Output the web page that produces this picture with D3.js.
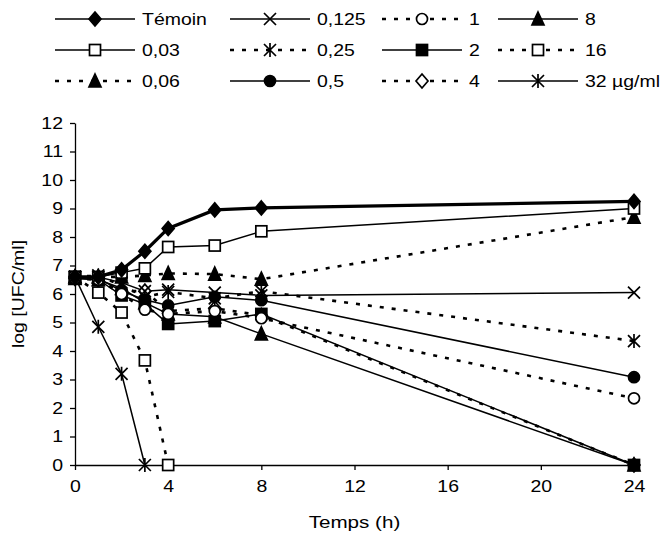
<!DOCTYPE html>
<html>
<head>
<meta charset="utf-8">
<script src="https://cdn.jsdelivr.net/npm/d3@7"></script>
<style>
  body { margin: 0; background: #fff; }
  svg text { font-family: Arial, "Liberation Sans", sans-serif; fill: #000; }
</style>
</head>
<body>
<script>
// time points (h)
const times = [0, 1, 2, 3, 4, 6, 8, 24];

const temoin = [6.6, 6.6, 6.85, 7.5, 8.3, 8.95, 9.02, 9.25];
const c003   = [6.6, 6.6, 6.75, 6.9, 7.65, 7.7, 8.2, 9.0];
const c006   = [6.6, 6.6, 6.6, 6.65, 6.72, 6.7, 6.52, 8.7];
const c0125  = [6.6, 6.6, 6.4, 6.1, 6.15, 6.05, 5.95, 6.05];
const c025   = [6.6, 6.65, 6.3, 5.9, 6.07, 5.85, 6.1, 4.35];
const c05    = [6.6, 6.55, 6.1, 5.8, 5.6, 5.9, 5.78, 3.08];
const c1     = [6.55, 6.5, 6.0, 5.45, 5.3, 5.4, 5.15, 2.34];
const c2     = [6.55, 6.5, 5.95, 5.65, 4.95, 5.05, 5.3, 0];
const c4     = [6.55, 6.5, 6.1, 6.1, 5.4, 5.5, 5.25, 0];
const c8     = [6.55, 6.5, 6.2, 5.7, 5.3, 5.2, 4.6, 0];
const c16    = [6.6, 6.05, 5.35, 3.67, 0, null, null, null];
const c32    = [6.6, 4.85, 3.2, 0, null, null, null, null];

const xTicks = [0, 4, 8, 12, 16, 20, 24];
const yTicks = d3.range(0, 13);

// legend order (row by row, 4 columns)
const series = [
  { name: 'Témoin',   values: temoin, marker: 'diamond',  fill: true,  dash: false, width: 3.2 },
  { name: '0,125',    values: c0125,  marker: 'x',        fill: false, dash: false },
  { name: '1',        values: c1,     marker: 'circle',   fill: false, dash: true },
  { name: '8',        values: c8,     marker: 'triangle', fill: true,  dash: false },
  { name: '0,03',     values: c003,   marker: 'square',   fill: false, dash: false },
  { name: '0,25',     values: c025,   marker: 'star',     fill: false, dash: true },
  { name: '2',        values: c2,     marker: 'square',   fill: true,  dash: false },
  { name: '16',       values: c16,    marker: 'square',   fill: false, dash: true },
  { name: '0,06',     values: c006,   marker: 'triangle', fill: true,  dash: true },
  { name: '0,5',      values: c05,    marker: 'circle',   fill: true,  dash: false },
  { name: '4',        values: c4,     marker: 'diamond',  fill: false, dash: true },
  { name: '32 µg/ml', values: c32,    marker: 'star',     fill: false, dash: false }
];

const W = 671, H = 538;
const SX = 1.18; // text is drawn a bit wider than Arial
const DASH = '4,8';
const svg = d3.select('body').append('svg')
  .attr('width', W).attr('height', H);

const x = d3.scaleLinear().domain([0, 24]).range([75, 634]);
const y = d3.scaleLinear().domain([0, 12]).range([465, 123]);

// axes
const xAxis = svg.append('g')
  .attr('transform', `translate(0,${y(0)})`)
  .call(d3.axisBottom(x).tickValues(xTicks).tickSize(5).tickPadding(10).tickSizeOuter(0));
const yAxis = svg.append('g')
  .attr('transform', `translate(${x(0)},0)`)
  .call(d3.axisLeft(y).tickValues(yTicks).tickSize(5).tickPadding(7).tickSizeOuter(0));

[xAxis, yAxis].forEach(a => {
  a.select('.domain').attr('stroke', '#000').attr('stroke-width', 1.3);
  a.selectAll('.tick line').attr('stroke', '#000').attr('stroke-width', 1.3);
  a.selectAll('.tick text').style('font-size', '16.5px')
    .style('font-family', 'Arial, "Liberation Sans", sans-serif').attr('fill', '#000')
    .attr('transform', `scale(${SX},1)`);
});
yAxis.selectAll('.tick text').attr('x', -12 / SX);

svg.append('text')
  .attr('transform', `translate(${(x(0) + x(24)) / 2},528) scale(1.25,1)`)
  .attr('text-anchor', 'middle').style('font-size', '16.5px')
  .text('Temps (h)');

svg.append('text')
  .attr('transform', `translate(24,${y(6)}) rotate(-90) scale(${SX},1)`)
  .attr('text-anchor', 'middle').style('font-size', '16.5px')
  .text('log [UFC/ml]');

// marker drawing
function drawMarker(g, s, cx, cy) {
  const r = 6;
  const stroke = '#000';
  const fill = s.fill ? '#000' : '#fff';
  let el;
  switch (s.marker) {
    case 'diamond':
      el = g.append('path').attr('d', `M${cx},${cy - r - 1}L${cx + r},${cy}L${cx},${cy + r + 1}L${cx - r},${cy}Z`);
      break;
    case 'square':
      el = g.append('rect').attr('x', cx - r + 0.5).attr('y', cy - r + 0.5).attr('width', 2 * r - 1).attr('height', 2 * r - 1);
      break;
    case 'triangle':
      el = g.append('path').attr('d', `M${cx},${cy - r - 1}L${cx + r},${cy + r}L${cx - r},${cy + r}Z`);
      break;
    case 'circle':
      el = g.append('circle').attr('cx', cx).attr('cy', cy).attr('r', r - 0.5);
      break;
    case 'x':
      g.append('path').attr('d', `M${cx - r},${cy - r}L${cx + r},${cy + r}M${cx - r},${cy + r}L${cx + r},${cy - r}`)
        .attr('stroke', stroke).attr('stroke-width', 1.7).attr('fill', 'none');
      return;
    case 'star':
      g.append('path').attr('d', `M${cx - r},${cy - r}L${cx + r},${cy + r}M${cx - r},${cy + r}L${cx + r},${cy - r}M${cx},${cy - r - 1}L${cx},${cy + r + 1}`)
        .attr('stroke', stroke).attr('stroke-width', 1.7).attr('fill', 'none');
      return;
  }
  el.attr('fill', fill).attr('stroke', stroke).attr('stroke-width', 1.7);
}

const line = d3.line()
  .defined(d => d.v !== null)
  .x(d => x(d.t))
  .y(d => y(d.v));

const plot = svg.append('g');
series.slice().reverse().forEach(s => {
  const pts = times.map((t, i) => ({ t, v: s.values[i] }));
  plot.append('path')
    .attr('d', line(pts))
    .attr('fill', 'none')
    .attr('stroke', '#000')
    .attr('stroke-width', s.width || (s.dash ? 2.6 : 1.5))
    .attr('stroke-dasharray', s.dash ? DASH : null);
});
series.slice().reverse().forEach(s => {
  const g = plot.append('g');
  times.forEach((t, i) => {
    if (s.values[i] !== null) drawMarker(g, s, x(t), y(s.values[i]));
  });
});

// legend
const colX = [55, 230, 382, 498];
const rowY = [19, 50, 81];
const legend = svg.append('g');
series.forEach((s, i) => {
  const cx = colX[i % 4], cy = rowY[Math.floor(i / 4)];
  const g = legend.append('g');
  g.append('line')
    .attr('x1', cx).attr('x2', cx + 80).attr('y1', cy).attr('y2', cy)
    .attr('stroke', '#000').attr('stroke-width', s.dash ? 2.6 : 1.5)
    .attr('stroke-dasharray', s.dash ? DASH : null);
  drawMarker(g, s, cx + 40, cy);
  g.append('text')
    .attr('transform', `translate(${cx + 87},${cy + 6}) scale(${SX},1)`)
    .style('font-size', '16.5px')
    .text(s.name);
});
</script>
</body>
</html>
